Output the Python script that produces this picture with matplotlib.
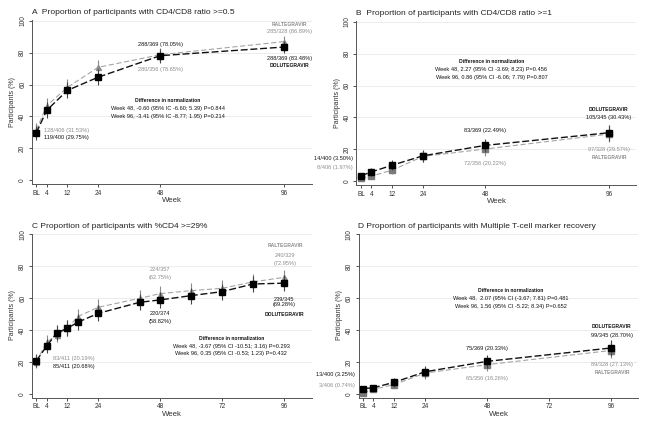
import matplotlib
matplotlib.use('Agg')
import matplotlib.pyplot as plt

plt.rcParams['font.family'] = ['Liberation Sans', 'DejaVu Sans']

# weeks
weeks = [0, 4, 12, 24, 48, 96]
weeks_c = [0, 4, 8, 12, 16, 24, 40, 48, 60, 72, 84, 96]

# A  CD4/CD8 >= 0.5
a_dtg = [29.75, 43.8, 56.3, 64.6, 78.05, 83.48]
a_ral = [31.53, 46.7, 58.2, 70.8, 78.65, 86.89]
a_dtg_err = [4.5, 5.0, 5.0, 5.0, 4.3, 4.0]
a_ral_err = [4.5, 5.0, 5.0, 4.8, 4.3, 3.8]

# B  CD4/CD8 >= 1
b_dtg = [3.50, 5.9, 10.1, 16.0, 22.49, 30.43]
b_ral = [1.97, 3.3, 7.0, 15.6, 20.22, 29.57]
b_dtg_err = [1.8, 2.4, 3.0, 3.7, 4.3, 4.9]
b_ral_err = [1.4, 1.8, 2.6, 3.7, 4.2, 5.0]

# C  %CD4 >= 29%
c_dtg = [20.68, 29.9, 38.3, 41.0, 44.8, 50.4, 57.3, 58.82, 61.5, 64.0, 68.8, 69.28]
c_ral = [20.19, 32.2, 37.0, 41.0, 48.3, 54.2, 59.8, 62.75, 64.6, 66.1, 70.1, 72.95]
c_dtg_err = [4.0, 4.5, 4.8, 5.0, 5.0, 5.0, 5.0, 5.0, 5.0, 5.0, 4.9, 4.9]
c_ral_err = [4.0, 4.6, 4.8, 5.0, 5.0, 5.0, 5.0, 5.0, 5.0, 5.0, 4.8, 4.8]

# D  multiple T-cell marker recovery
d_dtg = [3.25, 3.8, 7.2, 13.8, 20.33, 28.70]
d_ral = [0.74, 2.8, 5.8, 13.0, 18.26, 27.13]
d_dtg_err = [1.7, 2.0, 2.7, 3.5, 4.1, 4.8]
d_ral_err = [0.8, 1.6, 2.4, 3.5, 4.0, 4.8]

titles = ['A  Proportion of participants with CD4/CD8 ratio >=0.5',
          'B  Proportion of participants with CD4/CD8 ratio >=1',
          'C Proportion of participants with %CD4 >=29%',
          'D Proportion of participants with Multiple T-cell marker recovery']

BLACK = '#111111'
GREY = '#8c8c8c'

# text labels: x, y, text, colour, bold, ha
a_txt = [
    (98, 97.5, 'RALTEGRAVIR', GREY, True, 'center'),
    (98, 93, '285/328 (86.89%)', GREY, False, 'center'),
    (98, 76.5, '288/369 (83.48%)', BLACK, False, 'center'),
    (98, 72, 'DOLUTEGRAVIR', BLACK, True, 'center'),
    (48, 85, '288/369 (78.05%)', BLACK, False, 'center'),
    (48, 69.5, '280/356 (78.65%)', GREY, False, 'center'),
    (51, 50.3, 'Difference in normalization', BLACK, True, 'center'),
    (51, 45, 'Week 48, -0.60 (95% IC -6.60; 5.39) P=0.844', BLACK, False, 'center'),
    (51, 40, 'Week 96, -3.41 (95% IC -8.77; 1.95) P=0.214', BLACK, False, 'center'),
    (3, 31, '128/406 (31.53%)', GREY, False, 'left'),
    (3, 27, '119/400 (29.75%)', BLACK, False, 'left'),
]
b_txt = [
    (50.5, 75, 'Difference in normalization', BLACK, True, 'center'),
    (50.5, 70, 'Week 48, 2.27 (95% CI -3.69; 8.23) P=0.456', BLACK, False, 'center'),
    (50.5, 65, 'Week 96, 0.86 (95% CI -6.06; 7.79) P=0.807', BLACK, False, 'center'),
    (96, 45, 'DOLUTEGRAVIR', BLACK, True, 'center'),
    (96, 40, '105/345 (30.43%)', BLACK, False, 'center'),
    (96, 19.7, '97/328 (29.57%)', GREY, False, 'center'),
    (96, 15, 'RALTEGRAVIR', GREY, True, 'center'),
    (48, 32, '83/369 (22.49%)', BLACK, False, 'center'),
    (48, 11, '72/356 (20.22%)', GREY, False, 'center'),
    (-3.2, 14, '14/400 (3.50%)', BLACK, False, 'right'),
    (-3.2, 8.5, '8/406 (1.97%)', GREY, False, 'right'),
]
c_txt = [
    (96.5, 92.6, 'RALTEGRAVIR', GREY, True, 'center'),
    (96.5, 86.8, '240/329', GREY, False, 'center'),
    (96.5, 81.6, '(72.95%)', GREY, False, 'center'),
    (48, 78, '224/357', GREY, False, 'center'),
    (48, 72.8, '(62.75%)', GREY, False, 'center'),
    (96, 59.2, '239/345', BLACK, False, 'center'),
    (96, 55.8, '(69.28%)', BLACK, False, 'center'),
    (96, 49.8, 'DOLUTEGRAVIR', BLACK, True, 'center'),
    (48, 50, '220/374', BLACK, False, 'center'),
    (48, 45, '(58.82%)', BLACK, False, 'center'),
    (75.5, 34.5, 'Difference in normalization', BLACK, True, 'center'),
    (75.5, 29.7, 'Week 48, -3.67 (95% CI -10.51; 3.16) P=0.293', BLACK, False, 'center'),
    (75.5, 25, 'Week 96, 0.35 (95% CI -0.53; 1.23) P=0.432', BLACK, False, 'center'),
    (6.3, 22, '83/411 (20.19%)', GREY, False, 'left'),
    (6.3, 16.8, '85/411 (20.68%)', BLACK, False, 'left'),
]
d_txt = [
    (57.3, 64.6, 'Difference in normalization', BLACK, True, 'center'),
    (57.3, 59.8, 'Week 48,  2.07 (95% CI (-3.67; 7.81) P=0.481', BLACK, False, 'center'),
    (57.3, 54.5, 'Week 96, 1.56 (95% CI -5.22; 8.34) P=0.652', BLACK, False, 'center'),
    (96.4, 42.4, 'DOLUTEGRAVIR', BLACK, True, 'center'),
    (96.4, 36.4, '99/345 (28.70%)', BLACK, False, 'center'),
    (48, 28.6, '75/369 (20.33%)', BLACK, False, 'center'),
    (96.4, 18.6, '89/328 (27.13%)', GREY, False, 'center'),
    (96.4, 13.3, 'RALTEGRAVIR', GREY, True, 'center'),
    (48, 9.3, '65/356 (18.26%)', GREY, False, 'center'),
    (-3.2, 12, '13/400 (3.25%)', BLACK, False, 'right'),
    (-3.2, 5.3, '3/406 (0.74%)', GREY, False, 'right'),
]

fig = plt.figure(figsize=(6.48, 4.25), dpi=100)
W, H = 648.0, 425.0


def panel(left_px, top_px, x, dtg, ral, dtg_err, ral_err, ral_marker, xt, title, txt):
    ax = fig.add_axes([left_px / W, 1 - (top_px + 164) / H, 280 / W, 164 / H])
    ax.set_xlim(-1.8, 106.7)
    ax.set_ylim(-2.3, 100.4)
    for y in [20, 40, 60, 80, 100]:
        ax.axhline(y, color='#e4eaed', lw=0.6, zorder=0)
    # raltegravir
    ax.errorbar(x, ral, yerr=ral_err, fmt='none', ecolor='#8a8a8a', elinewidth=0.8, zorder=2)
    ax.plot(x, ral, color='#a0a0a0', lw=0.75, ls=(0, (5, 2.5)), zorder=2)
    if ral_marker == '^':
        ax.plot(x, ral, ls='none', marker='^', ms=3.6, color='#8a8a8a', zorder=3)
    else:
        ax.plot(x, ral, ls='none', marker='s', ms=4.2, color='#7a7a7a', zorder=3)
    # dolutegravir
    ax.errorbar(x, dtg, yerr=dtg_err, fmt='none', ecolor='#444444', elinewidth=0.8, zorder=4)
    ax.plot(x, dtg, color='#111111', lw=1.0, ls=(0, (5, 2)), zorder=4)
    ax.plot(x, dtg, ls='none', marker='s', ms=4.3, color='#000000', zorder=5)

    ax.set_xticks(xt)
    ax.set_xticklabels(['BL' if v == 0 else str(v) for v in xt])
    ax.set_yticks([0, 20, 40, 60, 80, 100])
    ax.tick_params(labelsize=4.7, length=2, width=0.6, pad=2, colors='#333333')
    plt.setp(ax.get_yticklabels(), rotation=90, va='center')
    for s in ['top', 'right']:
        ax.spines[s].set_visible(False)
    for s in ['left', 'bottom']:
        ax.spines[s].set_color('#555555')
        ax.spines[s].set_linewidth(0.7)
    ax.set_xlabel('Week', fontsize=5.6, labelpad=0.5, color='#333333')
    ax.set_ylabel('Participants (%)', fontsize=5.0, labelpad=2, color='#333333')
    ax.set_title(title, loc='left', fontsize=6.0, pad=4, color='#222222')
    for tx, ty, s, c, b, ha in txt:
        ax.text(tx, ty, s, color=c, fontsize=3.6 if b else 4.1,
                fontweight='bold' if b else 'normal', ha=ha, va='center',
                clip_on=False, zorder=6)
    return ax


panel(31.7, 20, weeks, a_dtg, a_ral, a_dtg_err, a_ral_err, '^', weeks, titles[0], a_txt)
panel(356.5, 21, weeks, b_dtg, b_ral, b_dtg_err, b_ral_err, 's', weeks, titles[1], b_txt)
panel(31.7, 233.5, weeks_c, c_dtg, c_ral, c_dtg_err, c_ral_err, '^', [0, 4, 12, 24, 48, 72, 96], titles[2], c_txt)
panel(358.5, 233.5, weeks, d_dtg, d_ral, d_dtg_err, d_ral_err, 's', [0, 4, 12, 24, 48, 72, 96], titles[3], d_txt)

fig.savefig('out.png', dpi=100, facecolor='white')
